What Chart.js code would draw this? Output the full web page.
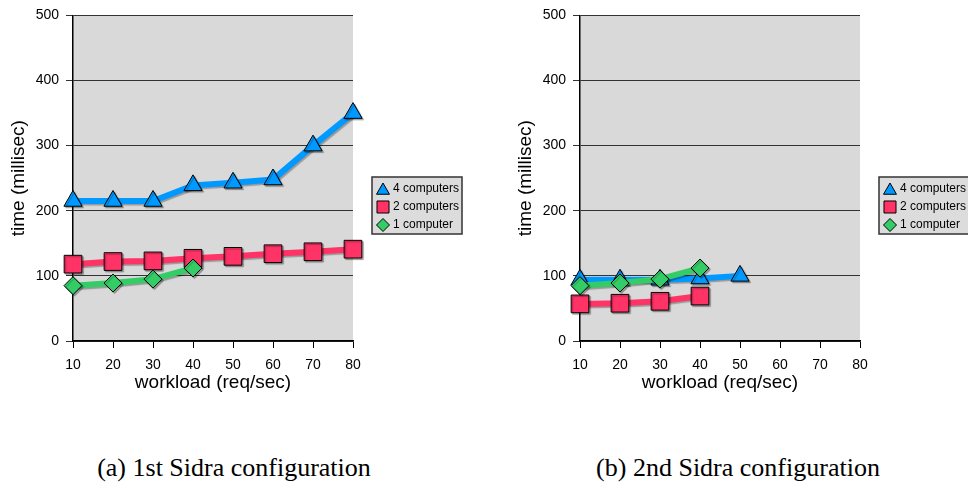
<!DOCTYPE html>
<html>
<head>
<meta charset="utf-8">
<script src="https://cdn.jsdelivr.net/npm/chart.js@4"></script>
<style>
  html, body { margin: 0; padding: 0; background: #fff; width: 968px; height: 489px; overflow: hidden; }
  .panel { position: absolute; top: 0; width: 470px; height: 414px; }
  .caption { position: absolute; top: 453px; width: 400px; text-align: center; line-height: 30px;
             font-family: "Liberation Serif", "Times New Roman", serif; font-size: 26px; color: #000; }
</style>
</head>
<body>
<div class="panel" style="left:0"><canvas id="chart-a" width="470" height="414"></canvas></div>
<div class="panel" style="left:507px"><canvas id="chart-b" width="470" height="414"></canvas></div>
<div class="caption" style="left:34px">(a) 1st Sidra configuration</div>
<div class="caption" style="left:538px">(b) 2nd Sidra configuration</div>

<script>
// workload categories (req/sec)
const workload = ['10', '20', '30', '40', '50', '60', '70', '80'];

// (a) 1st Sidra configuration, time in millisec
const firstFour = [215, 215, 215, 239, 243, 248, 300, 350];
const firstTwo = [118, 122, 123, 127, 130, 134, 137, 141];
const firstOne = [85, 89, 95, 112];

// (b) 2nd Sidra configuration
const secondFour = [94, 94, 94, 96, 100];
const secondTwo = [57, 58, 61, 69];
const secondOne = [85, 89, 95, 112];

const yTicks = [0, 100, 200, 300, 400, 500];

Chart.defaults.font.family = '"Liberation Sans", Arial, sans-serif';
Chart.defaults.color = '#000';

// grey plot background
const backdrop = {
  id: 'backdrop',
  beforeDraw(chart) {
    const {ctx, chartArea: a} = chart;
    ctx.save();
    ctx.fillStyle = '#d9d9d9';
    ctx.fillRect(a.left, a.top, a.right - a.left, a.bottom - a.top);
    ctx.restore();
  }
};

// soft drop shadow under lines and markers
const markShadow = {
  id: 'markShadow',
  beforeDatasetsDraw(chart) {
    const c = chart.ctx;
    c.save();
    c.shadowColor = 'rgba(0,0,0,0.3)';
    c.shadowOffsetX = 1.5;
    c.shadowOffsetY = 1.5;
    c.shadowBlur = 1;
  },
  afterDatasetsDraw(chart) {
    chart.ctx.restore();
  }
};

// boxed legend just right of the plot, top series first
const boxLegend = {
  id: 'boxLegend',
  afterDraw(chart) {
    const {ctx, chartArea: a} = chart;
    const items = chart.data.datasets.slice().reverse();
    const left = a.right + 19;
    const top = Math.round(chart.height / 2 - 30);
    const rowH = 18;
    const w = 90, h = items.length * rowH + 3;
    ctx.save();
    ctx.fillStyle = '#dcdcdc';
    ctx.fillRect(left, top, w, h);
    ctx.strokeStyle = '#333';
    ctx.lineWidth = 1.5;
    ctx.strokeRect(left, top, w, h);
    ctx.font = '12px "Liberation Sans", Arial, sans-serif';
    ctx.textBaseline = 'middle';
    ctx.textAlign = 'left';
    items.forEach((ds, i) => {
      const cy = top + 12 + i * rowH;
      const r = ds.pointStyle === 'rect' ? 8.5 : (ds.pointStyle === 'triangle' ? 7.5 : 6.5);
      ctx.fillStyle = ds.pointBackgroundColor;
      ctx.strokeStyle = '#000';
      ctx.lineWidth = 1;
      Chart.helpers.drawPoint(ctx, { pointStyle: ds.pointStyle, radius: r, rotation: 0, borderWidth: 1 }, left + 11, ds.pointStyle === 'triangle' ? cy + 1.5 : cy);
      ctx.fillStyle = '#000';
      ctx.fillText(ds.label, left + 21, cy);
    });
    ctx.restore();
  }
};

function series(label, data, color, style, radius) {
  return {
    label: label,
    data: data,
    borderColor: color,
    backgroundColor: color,
    borderWidth: 6,
    tension: 0,
    pointStyle: style,
    pointRadius: radius,
    pointBackgroundColor: color,
    pointBorderColor: '#000',
    pointBorderWidth: 1,
    clip: false
  };
}

function makeChart(id, four, two, one) {
  const ctx = document.getElementById(id).getContext('2d');
  return new Chart(ctx, {
    type: 'line',
    data: {
      labels: workload,
      // listed bottom-up so 1 computer is drawn on top
      datasets: [
        series('1 computer', one, '#33cc66', 'rectRot', 9),
        series('2 computers', two, '#ff3366', 'rect', 12.5),
        series('4 computers', four, '#0099ff', 'triangle', 10.5)
      ]
    },
    options: {
      responsive: false,
      animation: false,
      layout: { padding: { left: 3, top: 13, right: 117, bottom: 13 } },
      plugins: {
        tooltip: { enabled: false },
        legend: { display: false }
      },
      scales: {
        x: {
          type: 'category',
          offset: false,
          grid: { drawOnChartArea: false, drawTicks: true, tickLength: 7, color: '#000', lineWidth: 1 },
          border: { display: true, color: '#000', width: 1.5 },
          ticks: { padding: 9, font: { size: 14 }, maxRotation: 0 },
          title: { display: true, text: 'workload (req/sec)', font: { size: 19 }, padding: { top: 0, bottom: 6.6 } },
          afterFit(s) { s.height = 60; }
        },
        y: {
          min: 0,
          max: 500,
          afterBuildTicks(s) { s.ticks = yTicks.map(v => ({ value: v })); },
          grid: { color: '#333', lineWidth: 1, tickLength: 7, drawTicks: true },
          border: { display: true, color: '#000', width: 1.5 },
          ticks: { padding: 7, font: { size: 14 } },
          title: { display: true, text: 'time (millisec)', font: { size: 19 }, padding: { top: 4, bottom: 0 } },
          afterFit(s) { s.width = 70; }
        }
      }
    },
    plugins: [backdrop, markShadow, boxLegend]
  });
}

makeChart('chart-a', firstFour, firstTwo, firstOne);
makeChart('chart-b', secondFour, secondTwo, secondOne);
</script>
</body>
</html>
